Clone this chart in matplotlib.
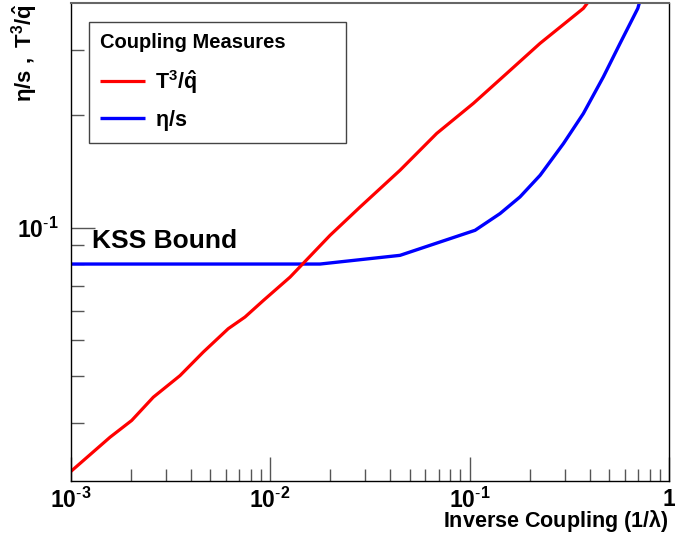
import matplotlib
matplotlib.use("Agg")
import matplotlib.pyplot as plt
from matplotlib.ticker import FixedLocator, FuncFormatter, NullFormatter
from matplotlib.font_manager import FontProperties

plt.rcParams['font.family'] = ['Liberation Sans', 'DejaVu Sans']
plt.rcParams['mathtext.fontset'] = 'custom'
plt.rcParams['mathtext.rm'] = 'Liberation Sans'
plt.rcParams['mathtext.bf'] = 'Liberation Sans:bold'
plt.rcParams['mathtext.it'] = 'Liberation Sans:italic'
plt.rcParams['mathtext.default'] = 'bf'

# ---- data ----
inv_coupling_qhat = [0.001, 0.001575, 0.002023, 0.002596, 0.003532, 0.004624, 0.006166,
                     0.007482, 0.00925, 0.01259, 0.01998, 0.02825, 0.0448, 0.06846,
                     0.1045, 0.1537, 0.2257, 0.3722, 0.39]
t3_over_qhat = [0.02225, 0.0275, 0.0305, 0.0352, 0.0402, 0.0465, 0.0537,
                0.0577, 0.0639, 0.0738, 0.0955, 0.1137, 0.1426, 0.179,
                0.2154, 0.2592, 0.3119, 0.387, 0.40]

inv_coupling_eta = [0.001, 0.0178, 0.0448, 0.1066, 0.1422, 0.179, 0.2259, 0.2958,
                    0.3722, 0.4688, 0.5685, 0.6978, 0.71]
eta_over_s = [0.0800, 0.0800, 0.0844, 0.0985, 0.1092, 0.1210, 0.1383, 0.1682,
              0.2024, 0.2537, 0.3119, 0.387, 0.40]

x_major_ticks = [1e-3, 1e-2, 1e-1, 1.0]
x_tick_labels = [r'$\mathbf{10^{\text{-}3}}$', r'$\mathbf{10^{\text{-}2}}$', r'$\mathbf{10^{\text{-}1}}$', r'$\mathbf{1}$']
y_major_ticks = [0.1]
y_tick_labels = [r'$\mathbf{10^{\text{-}1}}$']
y_minor_ticks = [0.03, 0.04, 0.05, 0.06, 0.07, 0.08, 0.09, 0.2, 0.3]
x_minor_ticks = [m * d for d in (1e-3, 1e-2, 1e-1) for m in range(2, 10)]

series_names = [r'$\mathbf{T^{3}/\hat{q}}$', r'$\mathbf{\eta/s}$']
legend_title = 'Coupling Measures'

# ---- figure ----
fig = plt.figure(figsize=(6.75, 5.33), dpi=100)
ax = fig.add_axes([0.1047, 0.0976, 0.8864, 0.8968])

lb, = ax.plot(inv_coupling_eta, eta_over_s, color='#0000ff', lw=2.4, solid_capstyle='butt')
lr, = ax.plot(inv_coupling_qhat, t3_over_qhat, color='#ff0000', lw=2.3, solid_capstyle='butt')

ax.set_xscale('log')
ax.set_yscale('log')
ax.set_xlim(1e-3, 1.0)
ax.set_ylim(0.021, 0.4)

ax.xaxis.set_major_locator(FixedLocator(x_major_ticks))
ax.xaxis.set_major_formatter(FuncFormatter(lambda v, p: x_tick_labels[x_major_ticks.index(min(x_major_ticks, key=lambda t: abs(t - v)))]))
ax.xaxis.set_minor_locator(FixedLocator(x_minor_ticks))
ax.xaxis.set_minor_formatter(NullFormatter())
ax.yaxis.set_major_locator(FixedLocator(y_major_ticks))
ax.yaxis.set_major_formatter(FuncFormatter(lambda v, p: y_tick_labels[0]))
ax.yaxis.set_minor_locator(FixedLocator(y_minor_ticks))
ax.yaxis.set_minor_formatter(NullFormatter())

ax.tick_params(which='both', direction='in', top=False, right=False, color='#555555', width=1.0)
ax.tick_params(which='major', length=17, labelsize=16.5)
ax.tick_params(which='minor', length=9)
ax.tick_params(axis='x', which='major', pad=5)
ax.tick_params(axis='y', which='major', pad=9)

for s in ['left', 'bottom', 'right']:
    ax.spines[s].set_color('black')
    ax.spines[s].set_linewidth(1.0)
ax.spines['top'].set_color('#666666')
ax.spines['top'].set_linewidth(1.5)

# KSS bound label
ax.text(0.036, 0.487, 'KSS Bound', transform=ax.transAxes, fontsize=19,
        fontweight='bold', ha='left', va='baseline')

# axis titles
fig.text(25 / 675, 1 - 4 / 533, r'$\mathbf{\eta/s\ ,\ T^{3}/\hat{q}}$', rotation=90,
         ha='center', va='top', fontsize=16)
fig.text(668 / 675, 1 - 527 / 533, r'$\mathbf{Inverse\ Coupling\ (1/\lambda)}$',
         ha='right', va='baseline', fontsize=15.5)

leg = ax.legend(handles=[lr, lb], labels=series_names, title=legend_title,
                loc='upper left', bbox_to_anchor=(0.0306, 0.713, 0.4294, 0.247),
                mode='expand', frameon=True, fancybox=False, framealpha=1,
                edgecolor='#444444', prop=FontProperties(family='Liberation Sans', weight='bold', size=15.5),
                title_fontproperties=FontProperties(family='Liberation Sans', weight='bold', size=14.5),
                alignment='left', handlelength=2.1, handletextpad=0.45,
                borderpad=0.5, labelspacing=0.55, borderaxespad=0)
leg.get_frame().set_linewidth(1.0)
leg._legend_box.sep = 11.5  # extra gap between the title and the entries

fig.savefig('out.png', dpi=100)
